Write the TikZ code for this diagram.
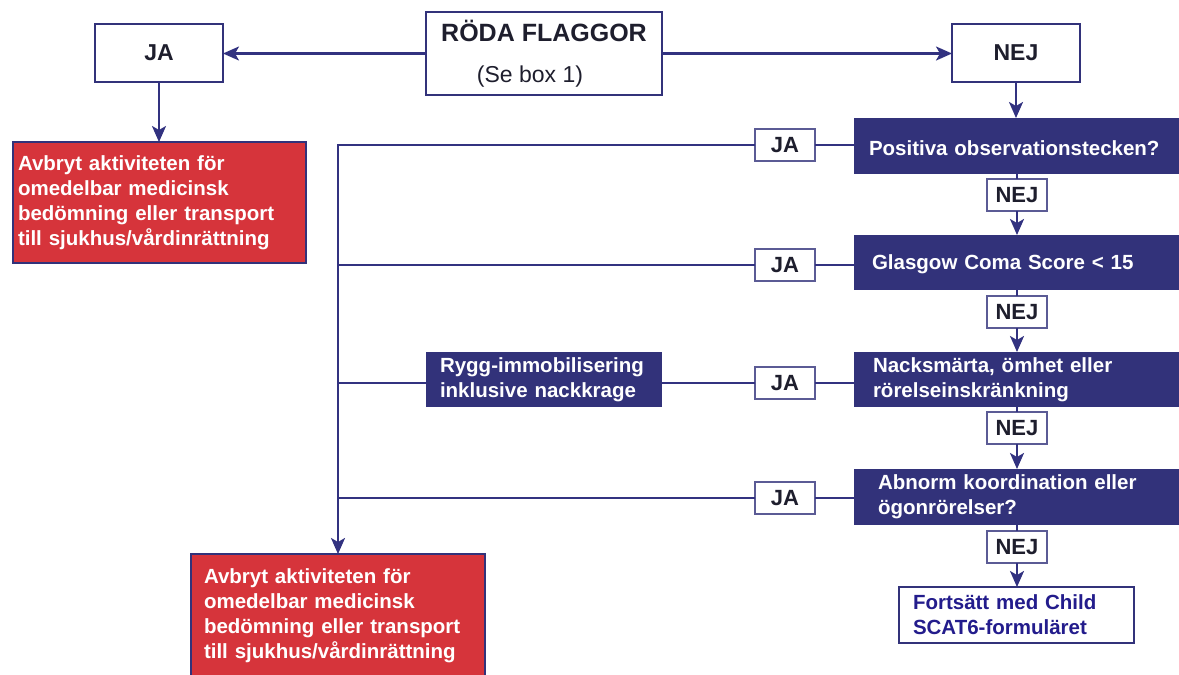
\documentclass[tikz,border=0pt]{standalone}
\usepackage{fontspec}
\setmainfont{Liberation Sans}
\usetikzlibrary{arrows.meta}
\definecolor{navy}{RGB}{50,50,122}
\definecolor{linec}{RGB}{50,50,128}
\definecolor{redbox}{RGB}{214,52,59}
\definecolor{txt}{RGB}{30,30,45}
\definecolor{fblue}{RGB}{35,28,140}
\begin{document}
\begin{tikzpicture}[x=1pt,y=-1pt,
 every node/.style={inner sep=0pt, outer sep=0pt},
 wbox/.style={draw=navy, line width=2.2pt, fill=white, text=txt, font=\bfseries\fontsize{23}{28}\selectfont},
 lab/.style={draw=navy!80, line width=1.6pt, fill=white, text=txt, minimum width=60pt, minimum height=32pt, anchor=north west, font=\bfseries\fontsize{22}{26}\selectfont},
 qbox/.style={fill=navy, text=white, anchor=north west, minimum width=326pt, font=\bfseries\fontsize{20.5}{25}\selectfont, align=left},
 redb/.style={fill=redbox, draw=navy, line width=2.4pt, text=white, anchor=north west, font=\bfseries\fontsize{20.5}{25}\selectfont, align=left},
 conn/.style={draw=linec, line width=2.2pt},
 arr/.style={conn, -{Stealth[length=16pt,width=14pt,inset=4pt]}},
]
\path[use as bounding box, fill=white] (0,0) rectangle (1179,675);

% top row
\node[wbox, anchor=north west, minimum width=236pt, minimum height=83pt, align=center, font=\bfseries\fontsize{25}{41}\selectfont] (red) at (426,12) {RÖDA FLAGGOR\\{\mdseries\fontsize{23}{41}\selectfont (Se box 1)\rule{28pt}{0pt}}};
\node[wbox, anchor=north west, minimum width=128pt, minimum height=58pt] (jatop) at (95,24) {JA};
\node[wbox, anchor=north west, minimum width=128pt, minimum height=58pt] (nejtop) at (952,24) {NEJ};

% red boxes
\node[redb, minimum width=293pt, minimum height=121pt, inner xsep=5pt, text width=283pt] (stop1) at (13,142) {Avbryt aktiviteten för\\omedelbar medicinsk\\bedömning eller transport\\till sjukhus/vårdinrättning};
\node[redb, minimum width=294pt, minimum height=123pt, inner xsep=13pt, text width=268pt] (stop2) at (191,554) {Avbryt aktiviteten för\\omedelbar medicinsk\\bedömning eller transport\\till sjukhus/vårdinrättning};

% question boxes
\node[qbox, minimum height=56pt, inner xsep=15pt, text width=296pt] (q1) at (854,118) {\rule{0pt}{19pt}Positiva observationstecken?};
\node[qbox, minimum height=55pt, inner xsep=18pt, text width=290pt] (q2) at (854,235) {\rule{0pt}{19pt}Glasgow Coma Score < 15};
\node[qbox, minimum height=55pt, inner xsep=19pt, text width=288pt] (q3) at (854,352) {Nacksmärta, ömhet eller\\rörelseinskränkning};
\node[qbox, minimum height=56pt, inner xsep=24pt, text width=278pt] (q4) at (854,469) {Abnorm koordination eller\\ögonrörelser?};

\node[qbox, minimum width=236pt, minimum height=55pt, inner xsep=14pt, text width=208pt] (rygg) at (426,352) {Rygg-immobilisering\\inklusive nackkrage};

\node[draw=navy, line width=2.2pt, fill=white, text=fblue, anchor=north west, minimum width=235pt, minimum height=56pt, inner xsep=14pt, text width=207pt, align=left, font=\bfseries\fontsize{20.5}{25}\selectfont] (final) at (899,587) {Fortsätt med Child\\SCAT6-formuläret};

% JA labels
\node[lab] (ja1) at (755,129) {JA};
\node[lab] (ja2) at (755,249) {JA};
\node[lab] (ja3) at (755,367) {JA};
\node[lab] (ja4) at (755,482) {JA};

% NEJ labels
\node[lab] (nej1) at (987,179) {NEJ};
\node[lab] (nej2) at (987,296) {NEJ};
\node[lab] (nej3) at (987,412) {NEJ};
\node[lab] (nej4) at (987,531) {NEJ};

% connectors
\draw[arr] (red.west) -- (red.west -| jatop.east);
\draw[arr] (red.east) -- (red.east -| nejtop.west);
\draw[arr] (jatop.south) -- (jatop.south |- stop1.north);
\draw[arr] (nejtop.south) -- (nejtop.south |- q1.north);

\draw[conn] (q1.south) -- (nej1.north);
\draw[arr] (nej1.south) -- (nej1.south |- q2.north);
\draw[conn] (q2.south) -- (nej2.north);
\draw[arr] (nej2.south) -- (nej2.south |- q3.north);
\draw[conn] (q3.south) -- (nej3.north);
\draw[arr] (nej3.south) -- (nej3.south |- q4.north);
\draw[conn] (q4.south) -- (nej4.north);
\draw[arr] (nej4.south) -- (nej4.south |- final.north);

\draw[conn] (ja1.east) -- (ja1.east -| q1.west);
\draw[conn] (ja2.east) -- (ja2.east -| q2.west);
\draw[conn] (ja3.east) -- (ja3.east -| q3.west);
\draw[conn] (ja4.east) -- (ja4.east -| q4.west);

\draw[arr] (ja1.west) -| (stop2.north);
\draw[conn] (ja2.west) -- (ja2.west -| stop2.north);
\draw[conn] (ja3.west) -- (ja3.west -| rygg.east);
\draw[conn] (ja3.west -| rygg.west) -- (ja3.west -| stop2.north);
\draw[conn] (ja4.west) -- (ja4.west -| stop2.north);
\end{tikzpicture}
\end{document}
